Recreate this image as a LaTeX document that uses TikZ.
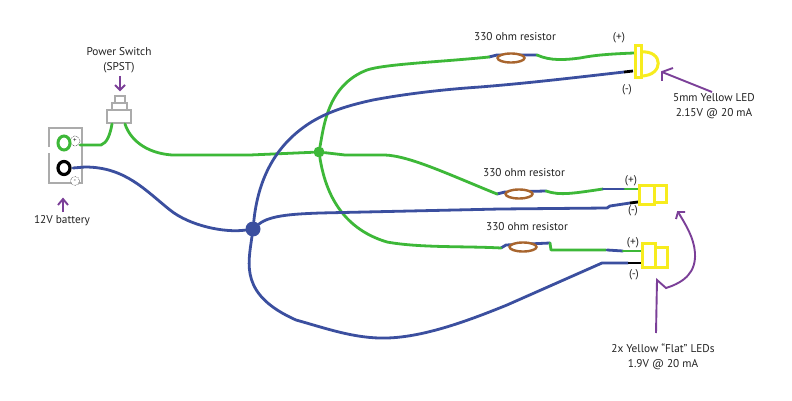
\documentclass[tikz,border=0pt]{standalone}
\usepackage{fontspec}
\setmainfont{PT Sans}
\usetikzlibrary{shapes.geometric}
\definecolor{gw}{HTML}{3DB838}
\definecolor{bw}{HTML}{3B4F9F}
\definecolor{yl}{HTML}{F7EC1E}
\definecolor{pp}{HTML}{7B3F98}
\definecolor{gy}{HTML}{ABABAB}
\definecolor{br}{HTML}{A8652E}
\definecolor{tx}{HTML}{222222}
\tikzset{x=1pt,y=-1pt,
 green wire/.style={draw=gw,line width=2.8pt,line cap=round,line join=round},
 blue wire/.style={draw=bw,line width=2.8pt,line cap=round,line join=round},
 black wire/.style={draw=black,line width=2.8pt},
 led/.style={draw=yl,line width=3pt},
 resistor/.style={draw=br,line width=2.4pt,fill=white,shape=ellipse,minimum width=27pt,minimum height=9pt,inner sep=0pt},
 pointer/.style={draw=pp,line width=1.9pt,line join=miter},
 case/.style={draw=gy,line width=2.8pt},
 label/.style={font=\fontsize{11.3}{15}\selectfont,text=tx,align=center,inner sep=0pt},
 dot/.style={circle,inner sep=0pt,minimum size=#1}}
\begin{document}
\begin{tikzpicture}
\useasboundingbox (0,0) rectangle (792,401);
\fill[white] (0,0) rectangle (792,401);
% battery
\draw[case] (49,147) -- (49,128) -- (82,128) -- (82,183) -- (49,183) -- (49,153);
\draw[line width=.5pt,densely dotted,fill=white] (75,141) circle (5);
\draw[line width=.5pt,densely dotted,fill=white] (75,181) circle (4.5);
\node[label,font=\fontsize{7}{7}\selectfont] at (75,141) {+};
\node[label,font=\fontsize{7}{7}\selectfont] at (75,181) {-};
\draw[draw=gw,line width=3pt] (64,143) ellipse (6 and 7);
\draw[draw=black,line width=3.2pt] (64,168) ellipse (6 and 6.5);
\coordinate (gb) at (80,145);
\coordinate (bb) at (73,168);
% switch
\draw[draw=gy,line width=2pt,fill=white] (115,96) rectangle (125,103);
\draw[draw=gy,line width=2pt,fill=white] (112,103) rectangle (127,110);
\draw[draw=gy,line width=2pt,fill=white] (107,110) rectangle (131,123);
\coordinate (swl) at (112,124);
\coordinate (swr) at (125,124);
\node[dot=11pt,fill=gw] (gj) at (319,152) {};
\node[dot=15pt,fill=bw] (bj) at (253,229) {};
% resistors' blue stubs are drawn first, the ellipses after
\coordinate (r1c) at (511,58);
\coordinate (r2c) at (519,194);
\coordinate (r3c) at (523,247);
\draw[blue wire] (489,57) -- (497,55) -- (537,55);
\draw[blue wire] (497,194) -- (505,192) -- (546,191);
\draw[blue wire] (501,248) -- (506,245) -- (550,243);
\node[resistor] (r1) at (r1c) {};
\node[resistor] (r2) at (r2c) {};
\node[resistor] (r3) at (r3c) {};
\coordinate (l1p) at (634,53);
\coordinate (l1n) at (633,71);
\coordinate (l2p) at (639,189);
\coordinate (l2n) at (638,202);
\coordinate (l3p) at (641,251);
\coordinate (l3n) at (641,263);
% wires from battery and switch
\draw[green wire] (gb) -- (101,145) .. controls (107,143) and (110,135) .. (swl);
\draw[green wire] (swr) .. controls (130,139) and (145,153) .. (172,155) -- (250,155) -- (gj);
\draw[blue wire] (bb) -- (85,167) .. controls (125,167) and (145,190) .. (170,210) .. controls (190,226) and (225,233) .. (bj);
% green branches
\draw[green wire] (gj) .. controls (324,125) and (328,85) .. (367,70) .. controls (385,64) and (440,62) .. (489,57);
\draw[green wire] (537,55) .. controls (550,61) and (565,60) .. (580,58) .. controls (595,55) and (610,54) .. (l1p);
\draw[green wire] (gj) -- (345,155) -- (385,155) .. controls (410,156) and (450,175) .. (497,194);
\draw[green wire] (gj) .. controls (325,190) and (340,228) .. (387,242) .. controls (420,248) and (465,246) .. (501,248);
\draw[green wire] (546,191) .. controls (560,196) and (575,193) .. (603,189);
\draw[green wire] (550,243) -- (551,250) -- (606,250);
\draw[blue wire] (603,189) -- (625,189);
\draw[green wire] (625,189) -- (l2p);
\draw[blue wire] (607,250) -- (623,251);
\draw[green wire] (623,251) -- (l3p);
% blue branches
\draw[blue wire] (bj) .. controls (257,190) and (268,155) .. (300,130) .. controls (320,114) and (345,106) .. (373,100) .. controls (410,93) and (450,89) .. (480,87) .. controls (530,83) and (580,77) .. (624,72);
\draw[black wire] (624,72) -- (l1n);
\draw[blue wire] (bj) .. controls (270,215) and (295,214) .. (320,213) -- (500,209) -- (607,208) -- (610,206) -- (630,203);
\draw[black wire] (630,203) -- (l2n);
\draw[blue wire] (bj) .. controls (248,265) and (240,295) .. (296,320) .. controls (325,328) and (355,339) .. (387,338) .. controls (425,337) and (470,320) .. (507,305) -- (602,263) -- (628,263);
\draw[black wire] (628,263) -- (l3n);
% LEDs
\draw[led] (635,46) rectangle (641,78);
\draw[led] (641,52) .. controls (664,50) and (664,76) .. (641,76);
\draw[led] (639,185) rectangle (654,204);
\draw[led] (654,185) rectangle (666,202);
\draw[led] (642,243) rectangle (655,267);
\draw[led] (655,247) rectangle (667,267);
% labels
\node[label] (t1) at (515,37) {330 ohm resistor};
\node[label] (t2) at (524,173) {330 ohm resistor};
\node[label] (t3) at (527,227) {330 ohm resistor};
\node[label] (ps) at (119,60) {Power Switch\\(SPST)};
\node[label] (bt) at (62,221) {12V battery};
\node[label] (y5) at (714,106) {5mm Yellow LED\\2.15V @ 20 mA};
\node[label] (y2) at (663,357) {2x Yellow “Flat” LEDs\\1.9V @ 20 mA};
\node[label] at (619,38) {(+)};
\node[label] at (627,90) {(-)};
\node[label] at (631,181) {(+)};
\node[label] at (633,211) {(-)};
\node[label] at (633,243) {(+)};
\node[label] at (634,275) {(-)};
% pointers
\draw[pointer] (120,76) -- (120,90);
\draw[pointer] (115,85) -- (120,90) -- (125,85);
\draw[pointer] (63,212) -- (63,199);
\draw[pointer] (58,205) -- (63,199) -- (68,205);
\draw[pointer] (712,92) -- (662,72);
\draw[pointer] (662,81) -- (662,72) -- (673,68);
\draw[pointer] (656,333) -- (657,280) -- (666,288) .. controls (685,282) and (696,272) .. (695,253) .. controls (694,238) and (686,225) .. (678,212);
\draw[pointer] (676,219) -- (678,212) -- (685,212);
\end{tikzpicture}
\end{document}
